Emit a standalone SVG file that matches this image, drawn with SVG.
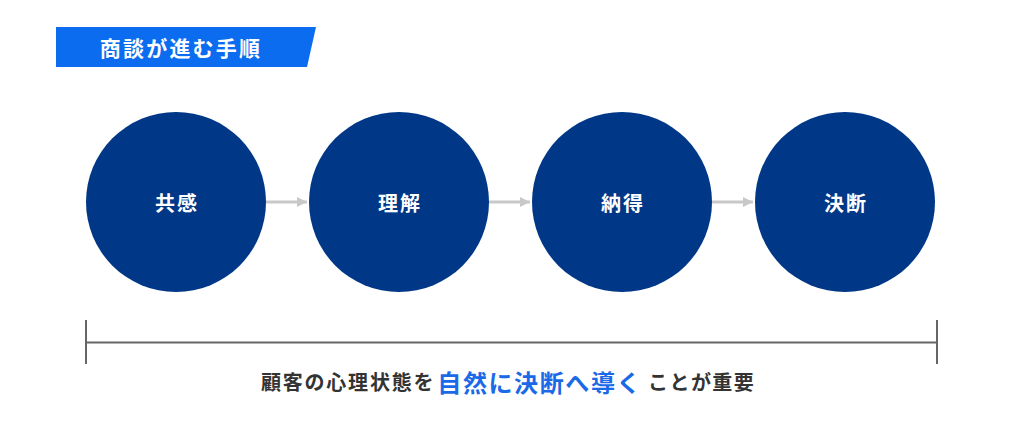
<svg xmlns="http://www.w3.org/2000/svg" width="1024" height="423" viewBox="0 0 1024 423">
<style>
.node{fill:#003787}
.nl{font-family:"Noto Sans CJK JP","Noto Sans",sans-serif;font-weight:700;font-size:20px;fill:#fff;letter-spacing:2px;text-anchor:middle;dominant-baseline:central}
.conn{stroke:#c8c8c8;stroke-width:3;fill:none}
.br{stroke:#666;stroke-width:2;fill:none}
.t{font-family:"Noto Sans CJK JP","Noto Sans",sans-serif;font-weight:700}
</style>
<defs>
<marker id="ah" viewBox="0 0 10 10" refX="10" refY="5" markerWidth="10" markerHeight="10" markerUnits="userSpaceOnUse" orient="auto">
<path d="M0,0 L10,5 L0,10 Z" fill="#c8c8c8"/>
</marker>
</defs>
<rect width="1024" height="423" fill="#fff"/>
<g id="title">
<polygon points="56,27 316,27 307,67 56,67" fill="#0b6cf0"/>
<text x="181" y="47" class="t" font-size="21" fill="#fff" letter-spacing="2.2" text-anchor="middle" dominant-baseline="central">商談が進む手順</text>
</g>
<g id="connectors">
<line class="conn" x1="266" y1="202" x2="307" y2="202" marker-end="url(#ah)"/>
<line class="conn" x1="489" y1="202" x2="530" y2="202" marker-end="url(#ah)"/>
<line class="conn" x1="712" y1="202" x2="753" y2="202" marker-end="url(#ah)"/>
</g>
<g id="n1"><circle class="node" cx="176" cy="202" r="90"/><text class="nl" x="177" y="202">共感</text></g>
<g id="n2"><circle class="node" cx="399" cy="202" r="90"/><text class="nl" x="400" y="202">理解</text></g>
<g id="n3"><circle class="node" cx="622" cy="202" r="90"/><text class="nl" x="623" y="202">納得</text></g>
<g id="n4"><circle class="node" cx="845" cy="202" r="90"/><text class="nl" x="846" y="202">決断</text></g>
<g id="bracket">
<line class="br" x1="86" y1="320" x2="86" y2="364"/>
<line class="br" x1="937" y1="320" x2="937" y2="364"/>
<line class="br" x1="86" y1="342.5" x2="937" y2="342.5"/>
</g>
<g id="caption">
<text x="508" y="381" class="t" text-anchor="middle" dominant-baseline="central"><tspan font-size="20" fill="#333" letter-spacing="1.8">顧客の心理状態を</tspan><tspan font-size="24" fill="#1a6ae8" letter-spacing="1.6" dx="2">自然に決断へ導く</tspan><tspan font-size="20" fill="#333" letter-spacing="1.4" dx="6">ことが重要</tspan></text>
</g>
</svg>
